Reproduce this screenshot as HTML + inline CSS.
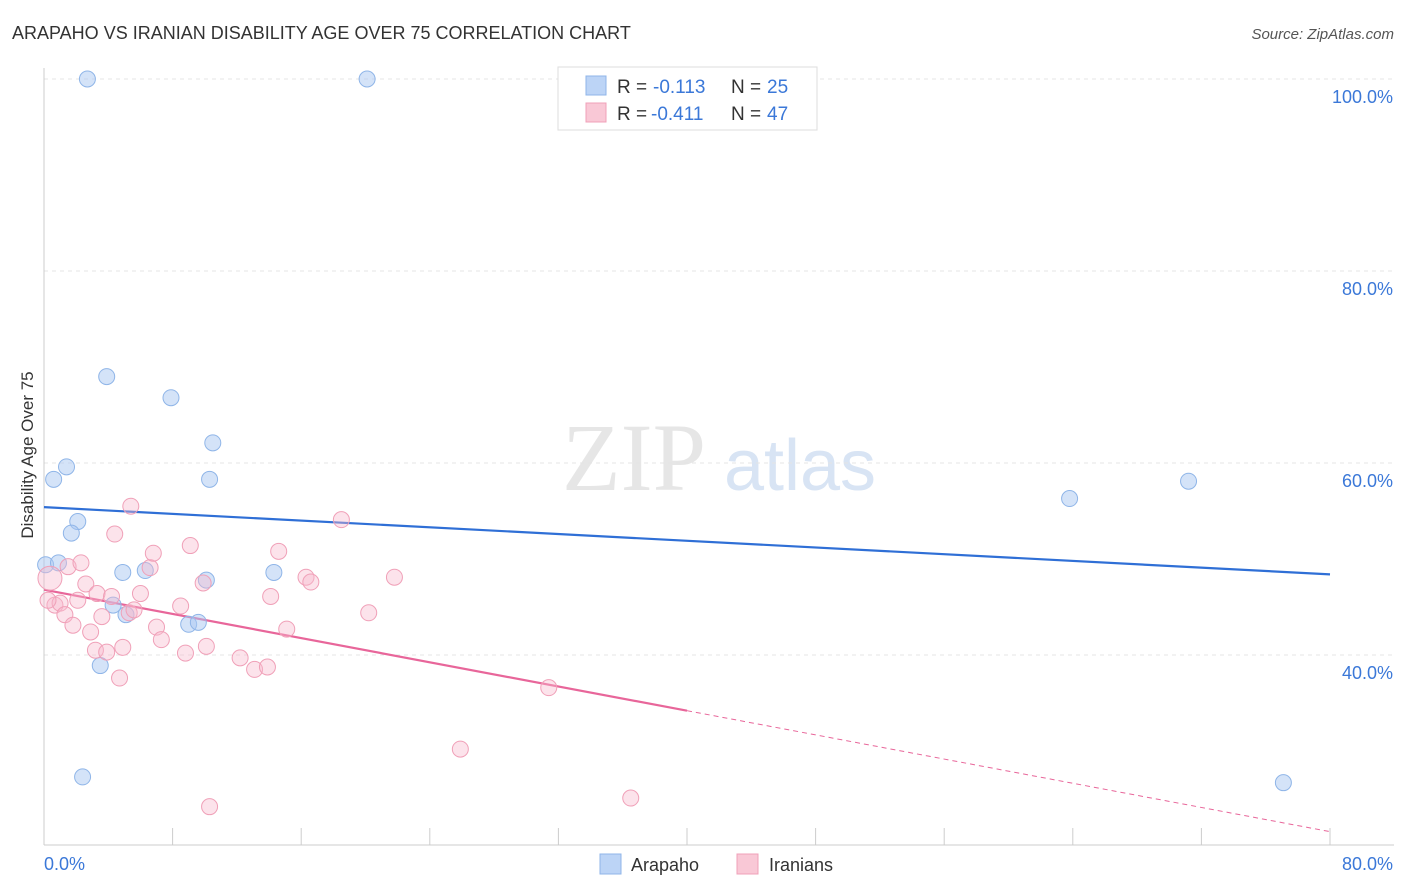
<!DOCTYPE html>
<html><head><meta charset="utf-8"><style>
body{margin:0;background:#fff;font-family:"Liberation Sans",sans-serif}
svg{display:block}
</style></head><body>
<svg id="chart" width="1406" height="892" xmlns="http://www.w3.org/2000/svg">
<text x="12" y="39" font-size="18" fill="#333">ARAPAHO VS IRANIAN DISABILITY AGE OVER 75 CORRELATION CHART</text>
<text x="1394" y="39" font-size="15" fill="#555" font-style="italic" text-anchor="end">Source: ZipAtlas.com</text>
<g>
<text x="634" y="490" font-size="96" fill="#e6e6e6" font-family="Liberation Serif" text-anchor="middle">ZIP</text>
<text x="800" y="490" font-size="72" fill="#d8e4f4" text-anchor="middle">atlas</text>
</g>
<g id="grid"></g>
<g id="axes"></g>
<g id="trend"></g>
<g id="points"></g>
<text transform="translate(33,455) rotate(-90)" font-size="17" fill="#333" text-anchor="middle">Disability Age Over 75</text>
<g>
<rect x="558" y="67" width="259" height="63" fill="#fff" stroke="#ddd"/>
<rect x="586" y="76" width="20" height="19" fill="#bcd4f6" stroke="#8fb5e8"/>
<rect x="586" y="103" width="20" height="19" fill="#f9c8d6" stroke="#f0a0b8"/>
<text x="617" y="93" font-size="19" fill="#333">R = </text>
<text x="653" y="93" font-size="19" fill="#3b78d8">-0.113</text>
<text x="731" y="93" font-size="19" fill="#333">N = </text>
<text x="767" y="93" font-size="19" fill="#3b78d8">25</text>
<text x="617" y="120" font-size="19" fill="#333">R = </text>
<text x="651" y="120" font-size="19" fill="#3b78d8">-0.411</text>
<text x="731" y="120" font-size="19" fill="#333">N = </text>
<text x="767" y="120" font-size="19" fill="#3b78d8">47</text>
</g>
<g>
<rect x="600" y="854" width="21" height="20" fill="#bcd4f6" stroke="#8fb5e8"/>
<text x="631" y="871" font-size="18" fill="#333">Arapaho</text>
<rect x="737" y="854" width="21" height="20" fill="#f9c8d6" stroke="#f0a0b8"/>
<text x="769" y="871" font-size="18" fill="#333">Iranians</text>
</g>
</svg>
<script>
const blueX=[2.7,20.1,3.9,7.9,10.5,1.4,0.6,10.3,2.1,1.7,0.1,0.9,4.9,6.3,10.1,14.3,4.3,5.1,9.0,9.6,3.5,2.4,63.8,71.2,77.1];
const blueY=[100,100,69.0,66.8,62.1,59.6,58.3,58.3,53.9,52.7,49.4,49.6,48.6,48.8,47.8,48.6,45.2,44.2,43.2,43.4,38.9,27.3,56.3,58.1,26.7];
const pinkX=[0.37,0.68,1.0,1.3,1.5,1.8,2.1,2.3,2.6,2.9,3.2,3.3,3.6,3.9,4.2,4.4,4.7,4.9,5.3,5.4,5.6,6.0,6.6,6.8,7.0,7.3,8.5,8.8,9.1,9.9,10.1,10.3,12.2,13.1,13.9,14.1,14.6,15.1,16.3,16.6,18.5,20.2,21.8,25.9,31.4,36.5,0.25];
const pinkY=[48.0,45.2,45.4,44.2,49.2,43.1,45.7,49.6,47.4,42.4,40.5,46.4,44.0,40.3,46.1,52.6,37.6,40.8,44.4,55.5,44.7,46.4,49.1,50.6,42.9,41.6,45.1,40.2,51.4,47.5,40.9,24.2,39.7,38.5,38.75,46.1,50.8,42.7,48.1,47.6,54.1,44.4,48.1,30.2,36.6,25.1,45.7];
const blueTrend=[55.4,48.4];
const pinkTrend=[46.8,21.6];
const pinkSolidEnd=40;
const yTicks=[100,80,60,40];
const yTickLabels=["100.0%","80.0%","60.0%","40.0%"];
const xTicks=[0,8,16,24,32,40,48,56,64,72,80];
const NS="http://www.w3.org/2000/svg";
const sx=v=>44+v*16.075, sy=v=>79+(100-v)*9.6;
function mk(tag,attrs,parent){const e=document.createElementNS(NS,tag);for(const k in attrs)e.setAttribute(k,attrs[k]);document.getElementById(parent).appendChild(e);return e;}
yTicks.forEach((t,i)=>{
 const g=mk('line',{x1:44,x2:1394,y1:sy(t),y2:sy(t),stroke:'#e4e4e4','stroke-dasharray':'4,4'},'grid');
 
 
 const l=mk('text',{x:1393,y:sy(t)+24,'font-size':18,fill:'#3b78d8','text-anchor':'end'},'axes');
 l.textContent=yTickLabels[i];
 
 
});
const ax=mk('line',{x1:44,x2:1394,y1:845,y2:845,stroke:'#ccc'},'axes');


const ay=mk('line',{x1:44,x2:44,y1:68,y2:845,stroke:'#ccc'},'axes');


xTicks.forEach(t=>{const e=mk('line',{x1:sx(t),x2:sx(t),y1:828,y2:845,stroke:'#ccc'},'axes');
 
 });
const x0=mk('text',{x:44,y:870,'font-size':18,fill:'#3b78d8'},'axes');x0.textContent='0.0%';


const x1=mk('text',{x:1393,y:870,'font-size':18,fill:'#3b78d8','text-anchor':'end'},'axes');x1.textContent='80.0%';


blueX.forEach((x,i)=>{const c=mk('circle',{cx:sx(x),cy:sy(blueY[i]),r:8,fill:'rgba(170,200,242,0.5)',stroke:'#8fb5e8','stroke-width':1},'points');
 
 });
pinkX.forEach((x,i)=>{const c=mk('circle',{cx:sx(x),cy:sy(pinkY[i]),r:(i===0?12:8),fill:'rgba(248,185,205,0.4)',stroke:'#f0a0b8','stroke-width':1},'points');
 
 });
const bl=mk('line',{x1:sx(0),y1:sy(blueTrend[0]),x2:sx(80),y2:sy(blueTrend[1]),stroke:'#2f6fd6','stroke-width':2.2},'trend');


const pm=pinkTrend[0]+(pinkTrend[1]-pinkTrend[0])*pinkSolidEnd/80;
const pl=mk('line',{x1:sx(0),y1:sy(pinkTrend[0]),x2:sx(pinkSolidEnd),y2:sy(pm),stroke:'#e8669a','stroke-width':2.2},'trend');


const pd=mk('line',{x1:sx(pinkSolidEnd),y1:sy(pm),x2:sx(80),y2:sy(pinkTrend[1]),stroke:'#e8669a','stroke-width':1,'stroke-dasharray':'5,4'},'trend');


</script>
</body></html>
